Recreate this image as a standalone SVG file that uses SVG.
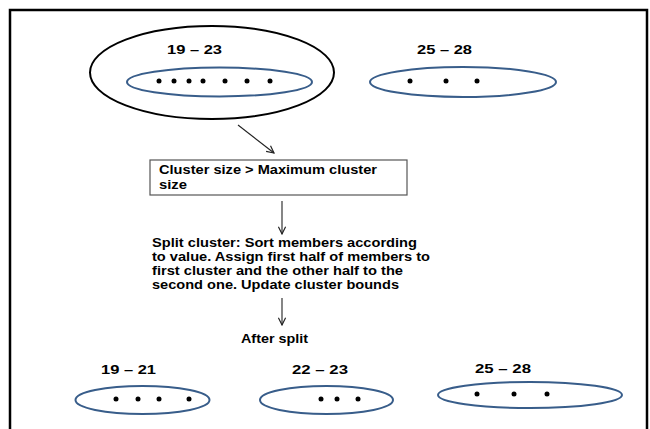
<svg xmlns="http://www.w3.org/2000/svg" width="650" height="429" viewBox="0 0 650 429">
  <style>
    .lbl { font-family: "Liberation Sans", Arial, sans-serif; font-weight: bold; font-size: 13px; fill: #000; }
    .outer { fill: none; stroke: #000; stroke-width: 2; }
    .member { fill: none; stroke: #385D8A; stroke-width: 2; }
    .dot { fill: #000; }
    .conn { stroke: #222; stroke-width: 1.1; fill: none; marker-end: url(#open); }
  </style>
  <defs>
    <marker id="open" viewBox="0 0 10 10" refX="9" refY="5" markerWidth="9" markerHeight="9" markerUnits="userSpaceOnUse" orient="auto">
      <path d="M1,1 L9,5 L1,9" fill="none" stroke="#222" stroke-width="1.3"/>
    </marker>
  </defs>

  <rect width="650" height="429" fill="#fff"/>
  <!-- page frame -->
  <path d="M10,432 V10 H647 V432" fill="none" stroke="#000" stroke-width="2.5"/>

  <!-- cluster 19-23 before the split -->
  <g id="cluster-19-23">
    <ellipse class="outer" cx="212" cy="72.5" rx="122" ry="46.5"/>
    <text class="lbl" x="167" y="54" textLength="55" lengthAdjust="spacingAndGlyphs">19 – 23</text>
    <ellipse class="member" cx="219.5" cy="82" rx="92.5" ry="14.5"/>
    <circle class="dot" cx="159" cy="81" r="2.5"/>
    <circle class="dot" cx="174" cy="81" r="2.5"/>
    <circle class="dot" cx="189" cy="81" r="2.5"/>
    <circle class="dot" cx="203" cy="81" r="2.5"/>
    <circle class="dot" cx="225" cy="81" r="2.5"/>
    <circle class="dot" cx="247" cy="81" r="2.5"/>
    <circle class="dot" cx="270" cy="81" r="2.5"/>
  </g>

  <!-- cluster 25-28 before the split -->
  <g id="cluster-25-28-top">
    <text class="lbl" x="417" y="54" textLength="55" lengthAdjust="spacingAndGlyphs">25 – 28</text>
    <ellipse class="member" cx="463" cy="82" rx="93" ry="15"/>
    <circle class="dot" cx="410" cy="81" r="2.5"/>
    <circle class="dot" cx="446" cy="81" r="2.5"/>
    <circle class="dot" cx="477" cy="81" r="2.5"/>
  </g>

  <!-- condition box -->
  <g id="condition">
    <rect x="150" y="160" width="257" height="35" fill="#fff" stroke="#555" stroke-width="1.2"/>
    <text class="lbl" x="159" y="174" textLength="218" lengthAdjust="spacingAndGlyphs">Cluster size &gt; Maximum cluster</text>
    <text class="lbl" x="159" y="189" textLength="28" lengthAdjust="spacingAndGlyphs">size</text>
  </g>

  <!-- split step description -->
  <g id="split-step">
    <text class="lbl" x="152" y="247" textLength="265" lengthAdjust="spacingAndGlyphs">Split cluster: Sort members according</text>
    <text class="lbl" x="152" y="261" textLength="278" lengthAdjust="spacingAndGlyphs">to value. Assign first half of members to</text>
    <text class="lbl" x="152" y="275" textLength="251" lengthAdjust="spacingAndGlyphs">first cluster and the other half to the</text>
    <text class="lbl" x="152" y="289" textLength="247" lengthAdjust="spacingAndGlyphs">second one. Update cluster bounds</text>
  </g>

  <g id="after-split">
    <text class="lbl" x="241" y="343" textLength="67" lengthAdjust="spacingAndGlyphs">After split</text>
  </g>

  <!-- resulting clusters -->
  <g id="cluster-19-21">
    <text class="lbl" x="101" y="374" textLength="55" lengthAdjust="spacingAndGlyphs">19 – 21</text>
    <ellipse class="member" cx="142.5" cy="400" rx="67" ry="14"/>
    <circle class="dot" cx="116" cy="399" r="2.5"/>
    <circle class="dot" cx="138" cy="399" r="2.5"/>
    <circle class="dot" cx="159" cy="399" r="2.5"/>
    <circle class="dot" cx="189" cy="399" r="2.5"/>
  </g>

  <g id="cluster-22-23">
    <text class="lbl" x="292" y="374" textLength="56" lengthAdjust="spacingAndGlyphs">22 – 23</text>
    <ellipse class="member" cx="326.5" cy="400" rx="66.5" ry="14"/>
    <circle class="dot" cx="321" cy="399" r="2.5"/>
    <circle class="dot" cx="337" cy="399" r="2.5"/>
    <circle class="dot" cx="358" cy="399" r="2.5"/>
  </g>

  <g id="cluster-25-28-bottom">
    <text class="lbl" x="475" y="373" textLength="56" lengthAdjust="spacingAndGlyphs">25 – 28</text>
    <ellipse class="member" cx="530" cy="395" rx="92" ry="13"/>
    <circle class="dot" cx="477" cy="394" r="2.5"/>
    <circle class="dot" cx="514" cy="394" r="2.5"/>
    <circle class="dot" cx="547" cy="394" r="2.5"/>
  </g>

  <!-- connectors -->
  <g id="connectors">
    <line class="conn" x1="238" y1="125" x2="274" y2="153"/>
    <line class="conn" x1="282" y1="201" x2="282" y2="234"/>
    <line class="conn" x1="282" y1="298" x2="282" y2="325"/>
  </g>
</svg>
